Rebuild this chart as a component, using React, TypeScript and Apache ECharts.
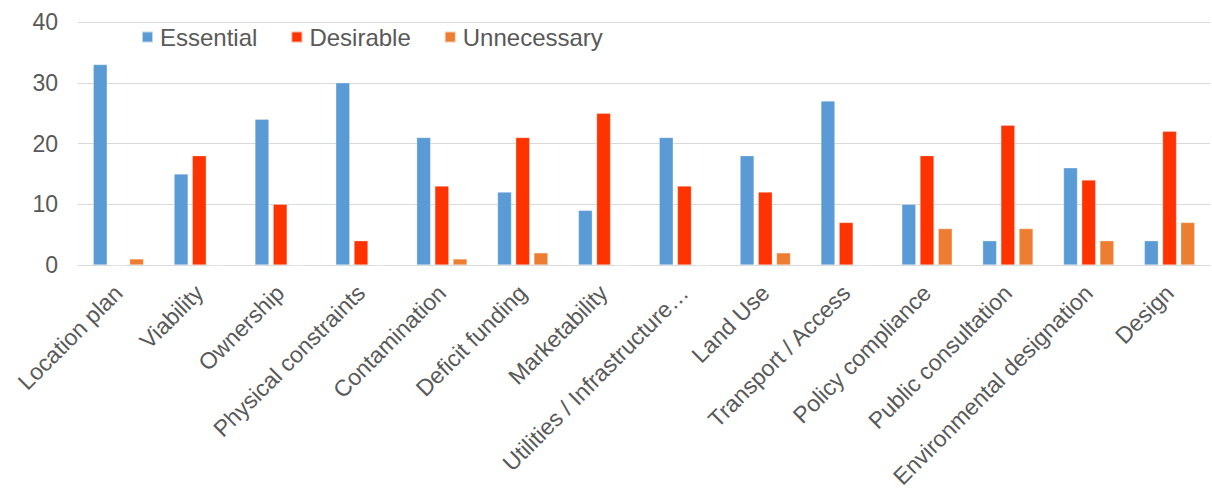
import React, { useEffect, useRef } from "react";
import * as echarts from "echarts";

const categories = [
  "Location plan",
  "Viability",
  "Ownership",
  "Physical constraints",
  "Contamination",
  "Deficit funding",
  "Marketability",
  "Utilities / Infrastructure…",
  "Land Use",
  "Transport / Access",
  "Policy compliance",
  "Public consultation",
  "Environmental designation",
  "Design",
];
const essential = [33, 15, 24, 30, 21, 12, 9, 21, 18, 27, 10, 4, 16, 4];
const desirable = [0, 18, 10, 4, 13, 21, 25, 13, 12, 7, 18, 23, 14, 22];
const unnecessary = [1, 0, 0, 0, 1, 2, 0, 0, 2, 0, 6, 6, 4, 7];
const yTicks = { min: 0, max: 40, interval: 10 };

export default function App() {
  const ref = useRef<HTMLDivElement>(null);
  useEffect(() => {
    document.body.style.margin = "0";
    const chart = echarts.init(ref.current!, null, { renderer: "svg" });
    const font = "Liberation Sans, Arial, sans-serif";
    const mk = (name: string, data: number[], color: string) => ({
      name,
      type: "bar",
      data,
      barWidth: 14,
      barGap: "30%",
      itemStyle: { color, borderColor: "rgba(255,255,255,0.6)", borderWidth: 0.5 },
    });
    chart.setOption({
      animation: false,
      textStyle: { fontFamily: font },
      legend: {
        top: 20,
        left: 136,
        itemWidth: 11,
        itemHeight: 11,
        itemGap: 33,
        icon: "rect",
        textStyle: { fontSize: 24, color: "#595959", fontFamily: font, padding: [0, 0, 0, 2] },
        data: ["Essential", "Desirable", "Unnecessary"],
      },
      grid: { left: 78, right: 2, top: 22, bottom: 234, containLabel: false },
      xAxis: {
        type: "category",
        data: categories,
        axisLine: { lineStyle: { color: "#d9d9d9" } },
        axisTick: { show: false },
        axisLabel: {
          rotate: 45,
          interval: 0,
          fontSize: 23,
          color: "#595959",
          fontFamily: font,
          margin: 24,
        },
      },
      yAxis: {
        type: "value",
        min: yTicks.min,
        max: yTicks.max,
        interval: yTicks.interval,
        axisLine: { show: false },
        axisTick: { show: false },
        splitLine: { lineStyle: { color: "#d9d9d9" } },
        axisLabel: { fontSize: 23, color: "#595959", fontFamily: font, margin: 20 },
      },
      series: [
        mk("Essential", essential, "#5B9BD5"),
        mk("Desirable", desirable, "#FF3300"),
        mk("Unnecessary", unnecessary, "#ED7D31"),
      ],
    });
    return () => chart.dispose();
  }, []);
  return <div ref={ref} style={{ width: 1212, height: 499 }} />;
}
